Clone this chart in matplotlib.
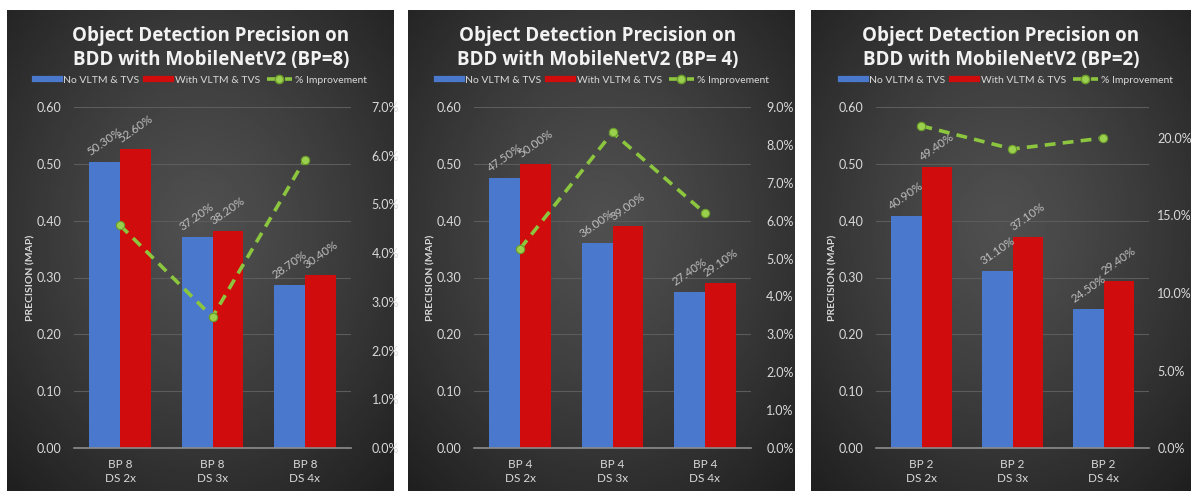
import matplotlib.pyplot as plt
import matplotlib as mpl
import numpy as np
from matplotlib.lines import Line2D
from matplotlib.ticker import PercentFormatter, FuncFormatter

mpl.rcParams['font.family'] = ['Lato', 'DejaVu Sans']

W, H = 1191, 491

# per-panel data: mAP without / with VLTM & TVS, and % improvement
labels_8 = ['BP 8\nDS 2x', 'BP 8\nDS 3x', 'BP 8\nDS 4x']
no_vltm_8 = [0.503, 0.372, 0.287]
with_vltm_8 = [0.526, 0.382, 0.304]
improve_8 = [0.0457, 0.0269, 0.0592]

labels_4 = ['BP 4\nDS 2x', 'BP 4\nDS 3x', 'BP 4\nDS 4x']
no_vltm_4 = [0.475, 0.360, 0.274]
with_vltm_4 = [0.500, 0.390, 0.291]
improve_4 = [0.0526, 0.0833, 0.0620]

labels_2 = ['BP 2\nDS 2x', 'BP 2\nDS 3x', 'BP 2\nDS 4x']
no_vltm_2 = [0.409, 0.311, 0.245]
with_vltm_2 = [0.494, 0.371, 0.294]
improve_2 = [0.2078, 0.1929, 0.2000]

titles = ['Object Detection Precision on\nBDD with MobileNetV2 (BP=8)',
          'Object Detection Precision on\nBDD with MobileNetV2 (BP= 4)',
          'Object Detection Precision on\nBDD with MobileNetV2 (BP=2)']

BLUE = '#4a78cc'
RED = '#d00c0c'
GREEN = '#8cc63f'
TXT = '#d9d9d9'
DASH = (0, (3, 2))

# layout in pixels: panel box, plot box, title centre, legend centre, right tick pad
panels = [
    dict(box=(7, 10, 394, 491), ax=(74, 107, 351, 448), tc=211, lc=201, rpad=15,
         ymax2=0.07, step2=0.01, labels=labels_8, a=no_vltm_8, b=with_vltm_8, imp=improve_8),
    dict(box=(408, 10, 794, 491), ax=(474, 107, 751, 448), tc=598, lc=603, rpad=11,
         ymax2=0.09, step2=0.01, labels=labels_4, a=no_vltm_4, b=with_vltm_4, imp=improve_4),
    dict(box=(811, 10, 1191, 491), ax=(876, 107, 1149, 448), tc=1001, lc=1007, rpad=6,
         ymax2=0.22, step2=0.05, labels=labels_2, a=no_vltm_2, b=with_vltm_2, imp=improve_2),
]


def fig_rect(x0, y0, x1, y1):
    return [x0 / W, 1 - y1 / H, (x1 - x0) / W, (y1 - y0) / H]


def radial_bg(fig, box):
    bg = fig.add_axes(fig_rect(*box), zorder=-5)
    yy, xx = np.mgrid[0:1:200j, 0:1:200j]
    r = np.sqrt(((xx - 0.5) / 0.75) ** 2 + ((yy - 0.45) / 0.75) ** 2)
    shade = 0.31 - 0.19 * np.clip(r, 0, 1) ** 1.3
    bg.imshow(shade, cmap='gray', vmin=0, vmax=1, aspect='auto', extent=(0, 1, 0, 1),
              origin='upper', interpolation='bilinear')
    bg.set_axis_off()


fig = plt.figure(figsize=(W / 100, H / 100), dpi=100)
fig.patch.set_facecolor('white')

for i, p in enumerate(panels):
    radial_bg(fig, p['box'])

    ax = fig.add_axes(fig_rect(*p['ax']))
    ax.set_facecolor('none')
    x = np.arange(3)
    w = 0.335
    bars_a = ax.bar(x - w / 2, p['a'], width=w, color=BLUE, zorder=2)
    bars_b = ax.bar(x + w / 2, p['b'], width=w, color=RED, zorder=2)

    for bars in (bars_a, bars_b):
        for bar in bars:
            v = bar.get_height()
            ax.annotate(f'{v * 100:.2f}%', (bar.get_x() + bar.get_width() / 2, v),
                        xytext=(0, 3), textcoords='offset points', ha='center', va='bottom',
                        rotation=35, fontsize=8.5, color='#bfbfbf', zorder=3)

    ax.set_xlim(-0.5, 2.5)
    ax.set_ylim(0, 0.6)
    ax.set_yticks(np.arange(0, 0.61, 0.1))
    ax.yaxis.set_major_formatter(FuncFormatter(lambda v, _: f'{v:.2f}'))
    ax.set_xticks(x)
    ax.set_xticklabels(p['labels'], linespacing=1.3)
    ax.yaxis.grid(True, color='#5c5c5c', lw=0.8)
    ax.set_axisbelow(True)
    for s in ('top', 'left', 'right'):
        ax.spines[s].set_visible(False)
    ax.spines['bottom'].set_color('#8c8c8c')
    ax.spines['bottom'].set_linewidth(1.2)
    ax.tick_params(axis='y', length=0, pad=9, labelsize=9, labelcolor=TXT)
    ax.tick_params(axis='x', length=0, pad=8, labelsize=8.5, labelcolor=TXT)
    ax.set_ylabel('PRECISION (MAP)', fontsize=7.5, fontweight='bold', color=TXT, va='center')
    ax.yaxis.set_label_coords(-43 / (p['ax'][2] - p['ax'][0]), 0.5)

    ax2 = ax.twinx()
    ax2.plot(x, p['imp'], ls=DASH, lw=2.6, color=GREEN, marker='o', markersize=6,
             markerfacecolor='#9ad04e', markeredgecolor='#6a9a2a', markeredgewidth=0.8, zorder=4)
    ax2.set_ylim(0, p['ymax2'])
    ax2.set_yticks(np.arange(0, p['ymax2'] + 1e-9, p['step2']))
    ax2.yaxis.set_major_formatter(PercentFormatter(1, decimals=1))
    ax2.tick_params(axis='y', length=0, pad=p['rpad'], labelsize=9, labelcolor=TXT)
    for s in ax2.spines.values():
        s.set_visible(False)

    fig.text(p['tc'] / W, 1 - 48 / H, titles[i], ha='center', va='center', fontsize=13.5,
             fontweight='bold', color='#f2f2f2', family='Open Sans', linespacing=1.2)

    handles = [Line2D([], [], color=BLUE, lw=4.5),
               Line2D([], [], color=RED, lw=4.5),
               Line2D([], [], color=GREEN, lw=2.6, ls=DASH, marker='o', markersize=6,
                      markerfacecolor='#9ad04e', markeredgecolor='#6a9a2a')]
    fig.legend(handles, ['No VLTM & TVS', 'With VLTM & TVS', '% Improvement'],
               loc='center', bbox_to_anchor=(p['lc'] / W, 1 - 80 / H), ncol=3, frameon=False,
               fontsize=7.5, labelcolor=TXT, handlelength=2.4, handletextpad=0.3,
               columnspacing=0.7)

plt.savefig('out.png', dpi=100)
